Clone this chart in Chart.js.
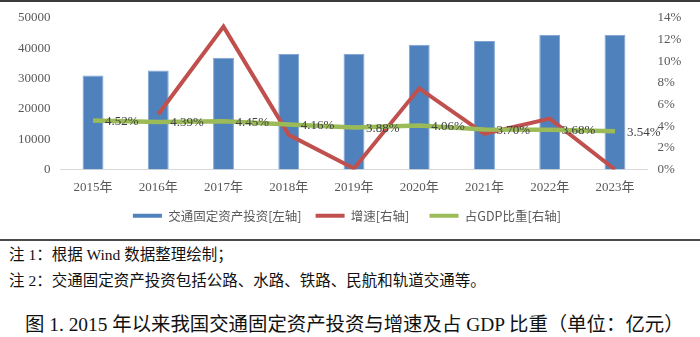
<!DOCTYPE html>
<html>
<head>
<meta charset="utf-8">
<script src="https://cdn.jsdelivr.net/npm/chart.js@4/dist/chart.umd.min.js"></script>
<style>
  body { margin:0; width:700px; height:337px; background:#fff; position:relative; overflow:hidden;
         font-family:"Liberation Serif","Noto Sans CJK SC",serif; }
  #topline { position:absolute; left:0; top:0; width:700px; height:2px; background:#3c3c3c; }
  #box { position:absolute; left:0; top:0; width:700px; height:232px; }
  #sep { position:absolute; left:0; top:239px; width:700px; height:2px; background:#4a4a4a; }
  .note { position:absolute; left:9px; font-size:15.5px; color:#111; white-space:nowrap; line-height:18px; }
  #title { position:absolute; left:25px; top:314px; font-size:19.4px; color:#111; white-space:nowrap; line-height:22px; }
</style>
</head>
<body>
<div id="topline"></div>
<div id="box"><canvas id="chart1"></canvas></div>
<div id="sep"></div>
<div class="note" style="top:246px">注 1：根据 Wind 数据整理绘制；</div>
<div class="note" style="top:272px">注 2：交通固定资产投资包括公路、水路、铁路、民航和轨道交通等。</div>
<div id="title">图 1. 2015 年以来我国交通固定资产投资与增速及占 GDP 比重（单位：亿元）</div>
<script>
// 数据
var years = ['2015年','2016年','2017年','2018年','2019年','2020年','2021年','2022年','2023年'];
var invest = [31000, 32700, 36900, 38200, 38200, 41200, 42400, 44500, 44500];   // 左轴
var growth = [null, 5.1, 13.2, 3.2, 0.1, 7.5, 3.3, 4.7, 0.0];                  // 右轴 %
var gdpShare = [4.52, 4.39, 4.45, 4.16, 3.88, 4.06, 3.70, 3.68, 3.54];          // 右轴 %
var seriesNames = ['交通固定资产投资[左轴]', '增速[右轴]', '占GDP比重[右轴]'];

var tickFont = { family: '"Liberation Serif","Noto Sans CJK SC",serif', size: 13 };

// 比重数据标签
var shareLabels = {
  id: 'shareLabels',
  afterDatasetsDraw: function (chart) {
    var ctx = chart.ctx;
    var meta = chart.getDatasetMeta(2);
    ctx.save();
    ctx.font = '13px "Liberation Serif","Noto Sans CJK SC",serif';
    ctx.fillStyle = '#404040';
    ctx.textAlign = 'left';
    ctx.textBaseline = 'middle';
    for (var i = 0; i < meta.data.length; i++) {
      var p = meta.data[i];
      ctx.fillText(gdpShare[i].toFixed(2) + '%', p.x + 12, p.y + 1);
    }
    ctx.restore();
  }
};

new Chart(document.getElementById('chart1'), {
  type: 'bar',
  data: {
    labels: years,
    datasets: [
      {
        label: seriesNames[0],
        data: invest,
        yAxisID: 'y',
        backgroundColor: '#4f81bd',
        borderColor: '#7fa3d0',
        borderWidth: 1,
        barPercentage: 0.32,
        categoryPercentage: 1,
        order: 2
      },
      {
        label: seriesNames[1],
        type: 'line',
        data: growth,
        yAxisID: 'y1',
        borderColor: '#c0504d',
        backgroundColor: '#c0504d',
        borderWidth: 4,
        pointRadius: 0,
        tension: 0,
        order: 1
      },
      {
        label: seriesNames[2],
        type: 'line',
        data: gdpShare,
        yAxisID: 'y1',
        borderColor: '#9bbb59',
        backgroundColor: '#9bbb59',
        borderWidth: 4.5,
        pointRadius: 0,
        tension: 0,
        order: 0
      }
    ]
  },
  options: {
    responsive: true,
    maintainAspectRatio: false,
    animation: false,
    layout: { padding: { top: 18, left: 0, right: 0, bottom: 0 } },
    plugins: {
      tooltip: { enabled: false },
      legend: {
        position: 'bottom',
        labels: {
          boxWidth: 29,
          boxHeight: 4,
          padding: 14,
          color: '#595959',
          font: { family: '"Noto Sans CJK SC",sans-serif', size: 12.5 },
          sort: function (a, b) { return a.datasetIndex - b.datasetIndex; },
          generateLabels: function (chart) {
            var items = Chart.defaults.plugins.legend.labels.generateLabels(chart);
            items.forEach(function (it, i) {
              it.lineWidth = 0;
              it.strokeStyle = 'rgba(0,0,0,0)';
              if (i < items.length - 1) it.text = it.text + '\u2002';
            });
            return items;
          }
        }
      }
    },
    scales: {
      x: {
        grid: { display: false, drawTicks: false },
        border: { display: true, color: '#d9d9d9', width: 1 },
        ticks: { color: '#595959', font: tickFont, padding: 10 },
        afterFit: function (s) { s.height = 26; }
      },
      y: {
        position: 'left',
        min: 0, max: 50000,
        grid: { display: false, drawTicks: false },
        border: { display: false },
        ticks: { stepSize: 10000, color: '#595959', font: tickFont, padding: 10,
                 callback: function (v) { return String(v); } },
        afterFit: function (s) { s.width = 60.4; }
      },
      y1: {
        position: 'right',
        min: 0, max: 14,
        grid: { display: false, drawTicks: false },
        border: { display: false },
        ticks: { stepSize: 2, color: '#595959', font: tickFont, padding: 10,
                 callback: function (v) { return v + '%'; } },
        afterFit: function (s) { s.width = 52.4; }
      }
    }
  },
  plugins: [shareLabels]
});
</script>
</body>
</html>
